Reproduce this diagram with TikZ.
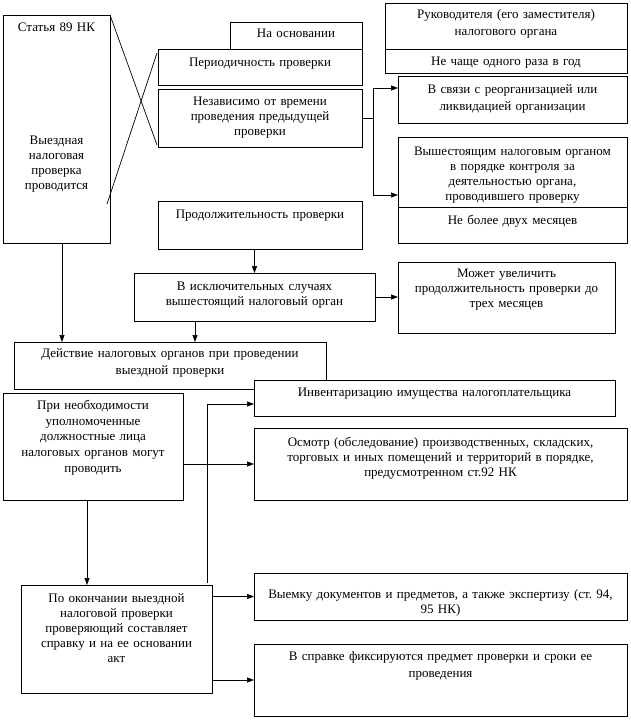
\documentclass[tikz,border=0pt]{standalone}
\usepackage{fontspec}
\setmainfont{Liberation Serif}
\usetikzlibrary{arrows.meta,calc}
\frenchspacing
\newcommand\mkbox[5]{\node[box, minimum width={(#4-#2)*1pt}, minimum height={(#5-#3)*1pt}] (#1) at ({(#2+#4)/2},{(#3+#5)/2}) {};}
\begin{document}
\begin{tikzpicture}[x=1pt,y=-1pt,
  box/.style={draw, fill=white, line width=0.7pt, inner sep=0pt, outer sep=0pt, rectangle},
  txt/.style={inner sep=0pt, align=center, anchor=mid, font=\fontsize{13}{15}\selectfont},
  wide/.style={font=\fontsize{13}{17}\selectfont},
  conn/.style={line width=0.7pt},
  arr/.style={conn, -{Triangle[length=7pt,width=5pt]}}]
\fill[white] (0,0) rectangle (630,720);
\useasboundingbox (0,0) rectangle (630,720);
% boxes
\mkbox{st}{3}{15}{110}{243}
\mkbox{per}{158}{49}{362}{85}
\mkbox{osn}{230}{22}{362}{49}
\mkbox{nez}{158}{89}{362}{147}
\mkbox{prod}{158}{201}{362}{249}
\mkbox{ruk}{385}{3}{627}{73}
\mkbox{svyaz}{398}{76}{627}{123}
\mkbox{vysh}{398}{137}{627}{243}
\mkbox{iskl}{134}{273}{375}{321}
\mkbox{mozh}{398}{262}{615}{333}
\mkbox{dey}{14}{342}{326}{389}
\mkbox{pri}{3}{393}{183}{500}
\mkbox{inv}{254}{380}{615}{416}
\mkbox{osm}{254}{428}{627}{500}
\mkbox{po}{21}{585}{212}{693}
\mkbox{vyem}{254}{573}{627}{620}
\mkbox{spr}{254}{644}{627}{716}
% dividers
\draw[conn] ([yshift=24pt]ruk.south west) -- ([yshift=24pt]ruk.south east);
\draw[conn] ([yshift=36pt]vysh.south west) -- ([yshift=36pt]vysh.south east);
% texts
\node[txt, text width=100pt] (tst1) at (56.5,29) {Статья 89 НК};
\node[txt, text width=100pt] (tst2) at (56.5,142) {Выездная\\налоговая\\проверка\\проводится};
\node[txt, text width=128pt] (tosn) at (296,35) {На основании};
\node[txt, text width=200pt] (tper) at (260,64) {Периодичность проверки};
\node[txt, text width=200pt] (tnez) at (260,103) {Независимо от времени\\проведения предыдущей\\проверки};
\node[txt, text width=200pt] (tprod) at (260,216) {Продолжительность проверки};
\node[txt, wide, text width=236pt] (truk) at (506,16) {Руководителя (его заместителя)\\налогового органа};
\node[txt, text width=236pt] (truk2) at (506,63) {Не чаще одного раза в год};
\node[txt, wide, text width=224pt] (tsvyaz) at (512.5,91) {В связи с реорганизацией или\\ликвидацией организации};
\node[txt, text width=224pt] (tvysh) at (512.5,153) {Вышестоящим налоговым органом\\в порядке контроля за\\деятельностью органа,\\проводившего проверку};
\node[txt, text width=224pt] (tvysh2) at (512.5,222) {Не более двух месяцев};
\node[txt, text width=236pt] (tiskl) at (254.5,288) {В исключительных случаях\\вышестоящий налоговый орган};
\node[txt, text width=212pt] (tmozh) at (506.5,275) {Может увеличить\\продолжительность проверки до\\трех месяцев};
\node[txt, wide, text width=306pt] (tdey) at (170,355) {Действие налоговых органов при проведении\\выездной проверки};
\node[txt, font=\fontsize{13}{15.75}\selectfont, text width=176pt] (tpri) at (93,407) {При необходимости\\уполномоченные\\должностные лица\\налоговых органов могут\\проводить};
\node[txt, text width=356pt] (tinv) at (434.5,394) {Инвентаризацию имущества налогоплательщика};
\node[txt, text width=368pt] (tosm) at (440.5,444) {Осмотр (обследование) производственных, складских,\\торговых и иных помещений и территорий в порядке,\\предусмотренном ст.92 НК};
\node[txt, text width=368pt] (tvyem) at (440.5,596) {Выемку документов и предметов, а также экспертизу (ст. 94,\\95 НК)};
\node[txt, wide, text width=368pt] (tspr) at (440.5,658) {В справке фиксируются предмет проверки и сроки ее\\проведения};
\node[txt, text width=186pt] (tpo) at (116.5,600) {По окончании выездной\\налоговой проверки\\проверяющий составляет\\справку и на ее основании\\акт};
% connectors
\draw[conn] (st.north east) -- ([xshift=-1pt,yshift=2pt]nez.south west);
\draw[conn] ([xshift=-3pt,yshift=39pt]st.south east) -- ([xshift=-1pt,yshift=-4pt]per.north west);
\draw[conn] (nez.east) -- ++(11,0) coordinate (brA);
\draw[arr] (brA) |- ([yshift=11.5pt]svyaz.west);
\draw[arr] (brA) |- ([yshift=-5pt]vysh.west);
\draw[arr] (prod.south -| iskl.north) -- (iskl.north);
\draw[arr] (iskl.east) -- (iskl.east -| mozh.west);
\coordinate (iA) at ([xshift=-59.5pt]iskl.south);
\draw[arr] (iA) -- (iA |- dey.north);
\coordinate (sA) at ([xshift=5.5pt]st.south);
\draw[arr] (sA) -- (sA |- dey.north);
\coordinate (pA) at ([xshift=-6pt]pri.south);
\draw[arr] (pA) -- (pA |- po.north);
\draw[arr] (pri.east |- osm.west) -- (osm.west);
\coordinate (poA) at ([xshift=-5pt,yshift=2pt]po.north east);
\draw[arr] (poA) |- ([yshift=-6pt]inv.west);
\draw[arr] (po.east |- vyem.west) -- (vyem.west);
\draw[arr] (po.east |- spr.west) -- (spr.west);
\end{tikzpicture}
\end{document}
